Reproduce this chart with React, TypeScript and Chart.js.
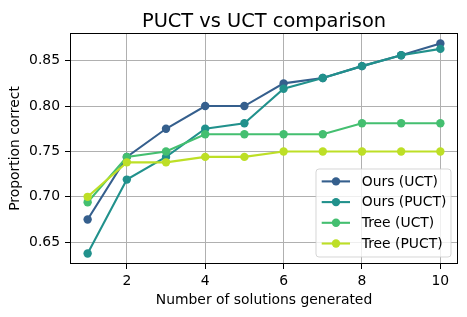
import React, { useEffect, useRef } from "react";
import { Chart, registerables } from "chart.js";

Chart.register(...registerables);

const xValues = [1, 2, 3, 4, 5, 6, 7, 8, 9, 10];
const oursUCT = [0.675, 0.744, 0.775, 0.8, 0.8, 0.825, 0.831, 0.844, 0.856, 0.869];
const oursPUCT = [0.6375, 0.719, 0.744, 0.775, 0.781, 0.819, 0.831, 0.844, 0.856, 0.863];
const treeUCT = [0.694, 0.744, 0.75, 0.769, 0.769, 0.769, 0.769, 0.781, 0.781, 0.781];
const treePUCT = [0.7, 0.738, 0.738, 0.744, 0.744, 0.75, 0.75, 0.75, 0.75, 0.75];
const seriesNames = ["Ours (UCT)", "Ours (PUCT)", "Tree (UCT)", "Tree (PUCT)"];
const seriesColors = ["#355f8d", "#21918c", "#44bf70", "#bddf26"];
const xTicks = [2, 4, 6, 8, 10];
const yTicks = [0.65, 0.7, 0.75, 0.8, 0.85];
const titleText = "PUCT vs UCT comparison";
const xLabel = "Number of solutions generated";
const yLabel = "Proportion correct";

const FONT = "'DejaVu Sans', sans-serif";

export default function App() {
  const ref = useRef<HTMLCanvasElement | null>(null);

  useEffect(() => {
    const canvas = ref.current;
    if (!canvas) return;
    const allSeries = [oursUCT, oursPUCT, treeUCT, treePUCT];

    const framePlugin = {
      id: "frameAndExtras",
      afterDatasetsDraw(chart: any) {
        const { ctx, chartArea } = chart;
        const { left, top, right, bottom } = chartArea;
        ctx.save();
        // spines
        ctx.strokeStyle = "#000";
        ctx.lineWidth = 1;
        ctx.strokeRect(Math.round(left) + 0.5, Math.round(top) + 0.5, Math.round(right - left) - 1, Math.round(bottom - top) - 1);
        // title
        ctx.fillStyle = "#000";
        ctx.font = `19.4px ${FONT}`;
        ctx.textAlign = "center";
        ctx.textBaseline = "alphabetic";
        ctx.fillText(titleText, (left + right) / 2, top - 6.5);
        // legend
        const w = 135;
        const h = 88;
        const lx = right - 7 - w;
        const ly = bottom - 7 - h;
        const r = 3;
        ctx.beginPath();
        ctx.moveTo(lx + r, ly);
        ctx.lineTo(lx + w - r, ly);
        ctx.arcTo(lx + w, ly, lx + w, ly + r, r);
        ctx.lineTo(lx + w, ly + h - r);
        ctx.arcTo(lx + w, ly + h, lx + w - r, ly + h, r);
        ctx.lineTo(lx + r, ly + h);
        ctx.arcTo(lx, ly + h, lx, ly + h - r, r);
        ctx.lineTo(lx, ly + r);
        ctx.arcTo(lx, ly, lx + r, ly, r);
        ctx.closePath();
        ctx.fillStyle = "rgba(255,255,255,0.8)";
        ctx.fill();
        ctx.strokeStyle = "rgba(204,204,204,0.8)";
        ctx.lineWidth = 1;
        ctx.stroke();
        ctx.font = `13.9px ${FONT}`;
        ctx.textAlign = "left";
        ctx.textBaseline = "middle";
        seriesNames.forEach((name, i) => {
          const cy = ly + 12.4 + i * 20.7;
          ctx.strokeStyle = seriesColors[i];
          ctx.lineWidth = 2.1;
          ctx.beginPath();
          ctx.moveTo(lx + 5.7, cy);
          ctx.lineTo(lx + 34, cy);
          ctx.stroke();
          ctx.fillStyle = seriesColors[i];
          ctx.beginPath();
          ctx.arc(lx + 20, cy, 4.2, 0, Math.PI * 2);
          ctx.fill();
          ctx.fillStyle = "#000";
          ctx.fillText(name, lx + 45.7, cy + 0.5);
        });
        ctx.restore();
      },
    };

    const chart = new Chart(canvas, {
      type: "line",
      data: {
        datasets: allSeries.map((s, i) => ({
          label: seriesNames[i],
          data: s.map((v, j) => ({ x: xValues[j], y: v })),
          borderColor: seriesColors[i],
          backgroundColor: seriesColors[i],
          pointBackgroundColor: seriesColors[i],
          pointBorderWidth: 0,
          pointRadius: 4.2,
          borderWidth: 2.1,
          tension: 0,
          fill: false,
          order: 3 - i,
        })),
      },
      options: {
        responsive: false,
        animation: false,
        devicePixelRatio: 1,
        layout: { padding: { left: 0, right: 9, top: 33, bottom: 0 } },
        plugins: {
          legend: { display: false },
          title: { display: false },
          tooltip: { enabled: false },
        },
        scales: {
          x: {
            type: "linear",
            min: 0.55,
            max: 10.45,
            afterBuildTicks: (scale: any) => {
              scale.ticks = xTicks.map((v) => ({ value: v }));
            },
            afterFit: (scale: any) => {
              scale.height = 53;
            },
            grid: {
              color: "#b0b0b0",
              lineWidth: 1,
              tickColor: "#000",
              tickLength: 5,
              tickWidth: 1,
            },
            border: { display: false },
            ticks: {
              color: "#000",
              padding: 4,
              maxRotation: 0,
              font: { family: FONT, size: 13.9 },
              callback: (v: any) => String(v),
            },
            title: {
              display: true,
              text: xLabel,
              color: "#000",
              font: { family: FONT, size: 13.9 },
              padding: { top: 0, bottom: 8.5 },
            },
          },
          y: {
            type: "linear",
            min: 0.626,
            max: 0.8805,
            afterBuildTicks: (scale: any) => {
              scale.ticks = yTicks.map((v) => ({ value: v }));
            },
            afterFit: (scale: any) => {
              scale.width = 70;
            },
            grid: {
              color: "#b0b0b0",
              lineWidth: 1,
              tickColor: "#000",
              tickLength: 5,
              tickWidth: 1,
            },
            border: { display: false },
            ticks: {
              color: "#000",
              padding: 5,
              font: { family: FONT, size: 13.9 },
              callback: (v: any) => Number(v).toFixed(2),
            },
            title: {
              display: true,
              text: yLabel,
              color: "#000",
              font: { family: FONT, size: 13.9 },
              padding: { top: 6.7, bottom: 0 },
            },
          },
        },
      },
      plugins: [framePlugin],
    });

    return () => chart.destroy();
  }, []);

  return (
    <div style={{ position: "fixed", left: 0, top: 0, width: 467, height: 317, background: "#fff" }}>
      <canvas ref={ref} width={467} height={317} style={{ display: "block", width: 467, height: 317 }} />
    </div>
  );
}
